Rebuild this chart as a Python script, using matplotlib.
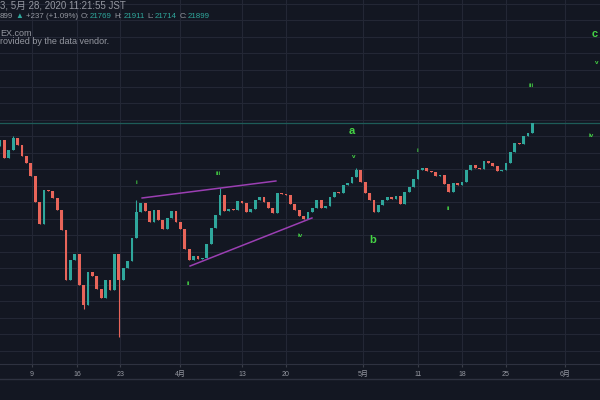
import matplotlib
matplotlib.use("Agg")
import matplotlib.pyplot as plt
from matplotlib.lines import Line2D

# 일봉 절반 간격(반나절)으로 읽은 종가
closes = [21379, 20834, 21076, 21440, 21227, 20894, 20682, 20288, 19500, 18834,
          19864, 19830, 19622, 19258, 18652, 17137, 17743, 17925, 16985, 16379,
          17379, 17258, 16864, 16592, 17137, 16834, 17925, 17137, 17501, 17713,
          18410, 19197, 19470, 19228, 18894, 19258, 18955, 18682, 19016, 19228,
          18894, 18682, 18076, 17743, 17864, 17773, 17800, 18228, 18713, 19106,
          19712, 19228, 19300, 19258, 19531, 19470, 19197, 19288, 19561, 19652,
          19500, 19319, 19167, 19773, 19743, 19712, 19440, 19258, 19076, 18985,
          19197, 19319, 19561, 19319, 19379, 19652, 19803, 19760, 20015, 20076,
          20258, 20470, 20106, 19773, 19561, 19197, 19409, 19561, 19652, 19591,
          19682, 19440, 19803, 19955, 20197, 20470, 20531, 20440, 20409, 20288,
          20318, 20046, 19803, 20076, 20015, 20106, 20470, 20621, 20531, 20500,
          20743, 20682, 20591, 20440, 20470, 20682, 21015, 21288, 21250, 21500,
          21591, 21899]
first_open = 21200
spike_lows = {27: 15410, 19: 16250}
spike_highs = {3: 21500, 31: 19561, 50: 19924, 81: 20531}
last_price = 21899

tick_pos = [7.3, 17.5, 27.3, 40.9, 55.0, 65.0, 82.5, 95.0, 105.0, 115.0, 128.4]
tick_labels = ['9', '16', '23', '4月', '13', '20', '5月', '11', '18', '25', '6月']

# 엘리엇 파동 라벨 (x, 가격, 텍스트, 크기)
wave_labels = [
    (31.1, 20106, 'i', 4.5), (42.7, 17016, 'ii', 4.5), (49.5, 20379, 'iii', 4.5),
    (68.2, 18500, 'iv', 4.5), (80.5, 20864, 'v', 4.5), (80.0, 21652, 'a', 8),
    (84.8, 18349, 'b', 8), (94.8, 21046, 'i', 4.5), (101.8, 19318, 'ii', 4.5),
    (120.7, 23045, 'iii', 4.5), (134.3, 21530, 'iv', 4.5), (135.7, 23742, 'v', 4.5),
    (135.2, 24591, 'c', 8),
]
wedge_upper = ([32.3, 62.7], [19622, 20137])
wedge_lower = ([43.2, 70.9], [17561, 19016])

BG = '#131722'
UP = '#2fa79c'
DOWN = '#e8655a'
GRID = '#232735'
TXT = '#9598a1'
plt.rcParams['font.family'] = ['Liberation Sans', 'Noto Sans CJK JP', 'DejaVu Sans']

fig = plt.figure(figsize=(6, 4), dpi=100, facecolor=BG)
ax = fig.add_axes([0, 36 / 400, 1, 364 / 400], facecolor=BG)

opens = [first_open] + closes[:-1]
for i, (o, c) in enumerate(zip(opens, closes)):
    col = UP if c >= o else DOWN
    lo = spike_lows.get(i, min(o, c))
    hi = spike_highs.get(i, max(o, c))
    ax.vlines(i, lo, hi, color=col, lw=0.8, zorder=2)
    ax.bar(i, c - o, bottom=o, width=0.6, color=col, lw=0, zorder=3)

ax.axhline(last_price, color='#1d5c58', lw=0.9, zorder=1)
ax.plot(*wedge_upper, color='#9b3fb3', lw=1.1, zorder=4)
ax.plot(*wedge_lower, color='#9b3fb3', lw=1.1, zorder=4)

for x, y, t, s in wave_labels:
    ax.text(x, y, t, color='#45d445', fontsize=s, fontweight='bold',
            ha='center', va='center', zorder=5)

ax.set_xlim(0, 600 / 4.4)
ax.set_ylim(14592, 25621)
ax.set_yticks(range(15000, 26000, 500))
ax.set_xticks(tick_pos)
ax.set_xticklabels(tick_labels, fontsize=5, color=TXT)
ax.tick_params(axis='x', length=2.5, color='#3a3e49', pad=2.5)
ax.tick_params(axis='y', left=False, labelleft=False)
ax.grid(True, color=GRID, lw=0.8)
ax.set_axisbelow(True)
for side in ['top', 'left', 'right']:
    ax.spines[side].set_visible(False)
ax.spines['bottom'].set_color('#2e3240')

fig.add_artist(Line2D([0, 1], [1 - 379 / 400] * 2, color='#2e3240', lw=1))

def px(x, y):
    return x / 600, 1 - y / 400

fig.text(*px(0, 6), '3, 5月 28, 2020 11:21:55 JST', color=TXT, fontsize=7,
         va='center', ha='left')

# 둘째 줄은 조각마다 색이 달라서 폭을 재며 이어 붙임
row2 = [('899', TXT), ('▲', UP), ('+237 (+1.09%)', TXT),
        ('O:', TXT), ('21769', UP), ('H:', TXT), ('21911', UP),
        ('L:', TXT), ('21714', UP), ('C:', TXT), ('21899', UP)]
renderer = fig.canvas.get_renderer()
x = 0
for t, col in row2:
    txt = fig.text(*px(x, 16), t, color=col, fontsize=5.7, va='center', ha='left')
    w = txt.get_window_extent(renderer).width
    gap = 1 if t.endswith(':') else 2.5
    x += w + gap
fig.text(*px(0, 33), 'EX.com', color=TXT, fontsize=6.5, va='center', ha='left')
fig.text(*px(0, 42), 'rovided by the data vendor.', color=TXT, fontsize=6.5,
         va='center', ha='left')

fig.savefig('out.png', dpi=100, facecolor=BG)
